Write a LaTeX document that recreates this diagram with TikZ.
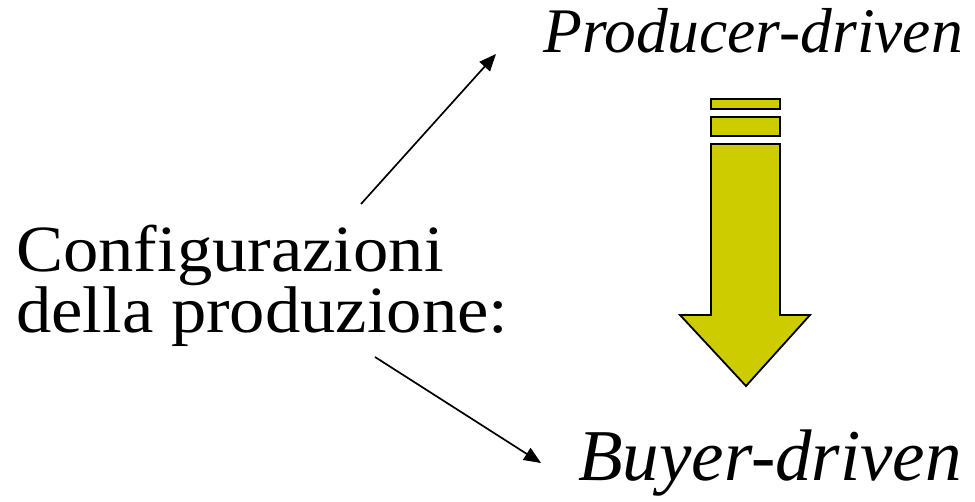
\documentclass[tikz,border=0pt]{standalone}
\usepackage{fontspec}
\setmainfont{Liberation Serif}
\newfontfamily\conffont[FakeStretch=1.07]{Liberation Serif}
\usetikzlibrary{arrows.meta}
\definecolor{olivefill}{HTML}{CCCC00}
\begin{document}
\begin{tikzpicture}[x=1pt,y=-1pt,
  lbl/.style={inner sep=0pt,anchor=base west},
  link/.style={line width=1.7pt,-{Triangle[length=17pt,width=14pt]}},
  blockpart/.style={fill=olivefill,draw=black,line width=1.8pt,line join=miter}]
\useasboundingbox (0,0) rectangle (975,502);

% left label, two lines (anchored on the last baseline)
\node[lbl,font=\conffont\fontsize{66}{60}\selectfont,align=left] (conf) at (16,333)
  {Configurazioni\\della produzione:};

% the two outcomes
\node[lbl,font=\fontsize{63.5}{63.5}\selectfont\itshape] (prod) at (543,53) {Producer-driven};
\node[lbl,font=\fontsize{73}{73}\selectfont\itshape] (buy) at (578,481) {Buyer-driven};

% arrow end points
\coordinate (upstart) at (361,204);
\coordinate (uptip) at (496,54);
\coordinate (downstart) at (375,357);
\coordinate (downtip) at (541,463);
\draw[link] (upstart) -- (uptip);
\draw[link] (downstart) -- (downtip);

% striped block arrow pointing down
\draw[blockpart] (711,99) rectangle (780,109);
\draw[blockpart] (711,117) rectangle (780,136);
\draw[blockpart] (711,144) -- (780,144) -- (780,315) -- (810,315)
  -- (746,386) -- (680,315) -- (711,315) -- cycle;
\end{tikzpicture}
\end{document}
